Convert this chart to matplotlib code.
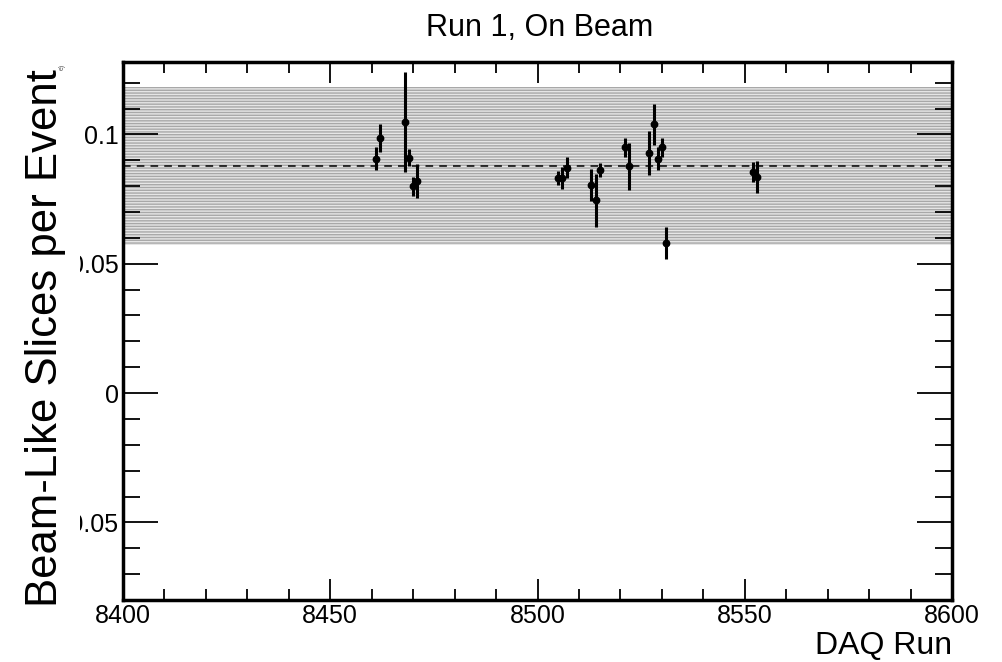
import matplotlib
matplotlib.use("Agg")
import matplotlib.pyplot as plt
from matplotlib.transforms import Bbox
from matplotlib.ticker import MultipleLocator

plt.rcParams['font.family'] = ['Liberation Sans', 'DejaVu Sans']

# Per-run measurements
runs = [8461, 8462, 8468, 8469, 8470, 8471,
        8505, 8506, 8507, 8513, 8514, 8515,
        8521, 8522, 8527, 8528, 8529, 8530, 8531,
        8552, 8553]
values = [0.0906, 0.0987, 0.1049, 0.0910, 0.0799, 0.0820,
          0.0831, 0.0832, 0.0872, 0.0806, 0.0745, 0.0861,
          0.0951, 0.0876, 0.0928, 0.1039, 0.0906, 0.0951, 0.0581,
          0.0855, 0.0836]
errors = [0.0044, 0.0055, 0.0193, 0.0032, 0.0037, 0.0064,
          0.0026, 0.0042, 0.0042, 0.0062, 0.0103, 0.0027,
          0.0037, 0.0089, 0.0085, 0.0079, 0.0044, 0.0037, 0.0062,
          0.0039, 0.0061]
run_halfwidth = 0.5

# Mean and spread band
mean_value = 0.0878
band_low = 0.0572
band_high = 0.1185

x_range = (8400, 8600)
y_range = (-0.08, 0.128)
y_ticks = [-0.05, 0.0, 0.05, 0.1]
y_ticklabels = ["-0.05", "0", "0.05", "0.1"]
x_ticks = [8400, 8450, 8500, 8550, 8600]

fig = plt.figure(figsize=(10.03, 6.62), dpi=100)
W, H = 1003, 662
ax = fig.add_axes([123 / W, 1 - 600 / H, (952 - 123) / W, (600 - 62) / H])

ax.fill_between(x_range, band_low, band_high, facecolor="#e6e6e6",
                edgecolor="#a8a8a8", hatch="------", linewidth=0, zorder=1)
ax.axhline(mean_value, color="black", linestyle=(0, (5, 4)), linewidth=1.1, zorder=2)

ax.errorbar(runs, values, yerr=errors, xerr=run_halfwidth, fmt="o",
            color="black", markersize=4.6, elinewidth=2.2, capsize=0, zorder=3)

ax.set_xlim(*x_range)
ax.set_ylim(*y_range)
ax.set_xticks(x_ticks)
ax.set_xticklabels([str(v) for v in x_ticks])
ax.set_yticks(y_ticks)
ax.set_yticklabels(y_ticklabels)
ax.xaxis.set_minor_locator(MultipleLocator(10))
ax.yaxis.set_minor_locator(MultipleLocator(0.01))

ax.tick_params(axis="both", which="both", direction="in", top=True, right=True,
               labelsize=18, width=1.3)
ax.tick_params(axis="x", which="major", length=15, pad=3)
ax.tick_params(axis="x", which="minor", length=8)
ax.tick_params(axis="y", which="major", length=25, pad=3)
ax.tick_params(axis="y", which="minor", length=12)
for s in ax.spines.values():
    s.set_linewidth(2.5)

fig.text(540 / W, 1 - 28 / H, "Run 1, On Beam", fontsize=22,
         ha="center", va="center")
fig.text(952 / W, 1 - 654 / H, "DAQ Run", fontsize=23,
         ha="right", va="baseline")
fig.text(46 / W, 1 - 338 / H, "Beam-Like Slices per Event", fontsize=31.5,
         rotation=90, ha="center", va="center")

# Tick labels are cut at the left edge of the label column
fig.canvas.draw()
clip = Bbox.from_extents(80, 0, W, H)
for lab in ax.get_yticklabels():
    lab.set_clip_box(clip)
    lab.set_clip_on(True)

fig.text(62 / W, 1 - 67 / H, "e)", fontsize=5, rotation=90, color="#555555",
         ha="center", va="center")

fig.savefig("out.png", dpi=100)
